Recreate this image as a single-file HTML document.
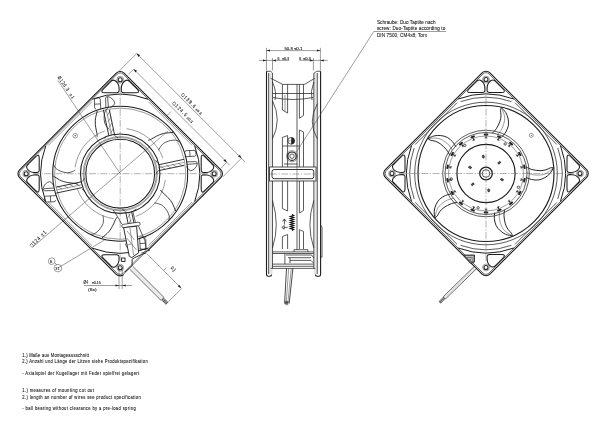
<!DOCTYPE html><html><head><meta charset="utf-8"><style>
html,body{margin:0;padding:0;background:#fff;width:600px;height:425px;overflow:hidden}
svg{display:block;filter:grayscale(1)}
.l{fill:none;stroke:#262626;stroke-width:.75}
.t{fill:none;stroke:#3a3a3a;stroke-width:.5}
.th{fill:none;stroke:#1c1c1c;stroke-width:1.15}
.tk{fill:none;stroke:#1c1c1c;stroke-width:1.6}
.c{fill:none;stroke:#666;stroke-width:.5;stroke-dasharray:7 1.5 1.2 1.5}
.d{fill:none;stroke:#3c3c3c;stroke-width:.5}
.fk{fill:#222;stroke:none}
text{font-family:"Liberation Sans",sans-serif;fill:#111;stroke:#333;stroke-width:.12}
</style></head><body>
<svg width="600" height="425" viewBox="0 0 600 425">
<g transform="translate(120.2,173.7)">
<rect class="th" x="-73.9" y="-73.9" width="147.8" height="147.8" rx="5.5" transform="rotate(45)"/>
<rect class="l" x="-72.5" y="-72.5" width="145" height="145" rx="4.2" transform="rotate(45)" style="stroke:#444"/>
<g transform="rotate(0)"><path class="th" d="M15.6,-81 L3.6,-81 Q1.1,-81 1.1,-83.5 L1.2,-86.5 Q1.6,-90.8 5,-93 Q7.8,-94.6 10,-91.5 L17,-84.5 Q20.4,-81 15.6,-81 Z" style="stroke-width:1.05"/><path class="th" d="M-15.6,-81 L-3.6,-81 Q-1.1,-81 -1.1,-83.5 L-1.2,-86.5 Q-1.6,-90.8 -5,-93 Q-7.8,-94.6 -10,-91.5 L-17,-84.5 Q-20.4,-81 -15.6,-81 Z" style="stroke-width:1.05"/><circle cx="0" cy="-94" r="2" style="fill:none;stroke:#222;stroke-width:1.1"/><circle class="t" cx="0" cy="-94" r="3.4"/><path class="th" d="M-27.84,-74.47 A79.5,79.5 0 0 1 27.84,-74.47" style="stroke-width:1"/><path class="t" d="M28.2,-72 L72,-28.2"/></g>
<g transform="rotate(90)"><path class="th" d="M15.6,-81 L3.6,-81 Q1.1,-81 1.1,-83.5 L1.2,-86.5 Q1.6,-90.8 5,-93 Q7.8,-94.6 10,-91.5 L17,-84.5 Q20.4,-81 15.6,-81 Z" style="stroke-width:1.05"/><path class="th" d="M-15.6,-81 L-3.6,-81 Q-1.1,-81 -1.1,-83.5 L-1.2,-86.5 Q-1.6,-90.8 -5,-93 Q-7.8,-94.6 -10,-91.5 L-17,-84.5 Q-20.4,-81 -15.6,-81 Z" style="stroke-width:1.05"/><circle cx="0" cy="-94" r="2" style="fill:none;stroke:#222;stroke-width:1.1"/><circle class="t" cx="0" cy="-94" r="3.4"/><path class="th" d="M-27.84,-74.47 A79.5,79.5 0 0 1 27.84,-74.47" style="stroke-width:1"/><path class="t" d="M28.2,-72 L72,-28.2"/></g>
<g transform="rotate(180)"><path class="th" d="M15.6,-81 L3.6,-81 Q1.1,-81 1.1,-83.5 L1.2,-86.5 Q1.6,-90.8 5,-93 Q7.8,-94.6 10,-91.5 L17,-84.5 Q20.4,-81 15.6,-81 Z" style="stroke-width:1.05"/><circle cx="0" cy="-94" r="2" style="fill:none;stroke:#222;stroke-width:1.1"/><circle class="t" cx="0" cy="-94" r="3.4"/><path class="th" d="M-27.84,-74.47 A79.5,79.5 0 0 1 27.84,-74.47" style="stroke-width:1"/><path class="t" d="M28.2,-72 L72,-28.2"/></g>
<g transform="rotate(270)"><path class="th" d="M15.6,-81 L3.6,-81 Q1.1,-81 1.1,-83.5 L1.2,-86.5 Q1.6,-90.8 5,-93 Q7.8,-94.6 10,-91.5 L17,-84.5 Q20.4,-81 15.6,-81 Z" style="stroke-width:1.05"/><path class="th" d="M-15.6,-81 L-3.6,-81 Q-1.1,-81 -1.1,-83.5 L-1.2,-86.5 Q-1.6,-90.8 -5,-93 Q-7.8,-94.6 -10,-91.5 L-17,-84.5 Q-20.4,-81 -15.6,-81 Z" style="stroke-width:1.05"/><circle cx="0" cy="-94" r="2" style="fill:none;stroke:#222;stroke-width:1.1"/><circle class="t" cx="0" cy="-94" r="3.4"/><path class="th" d="M-27.84,-74.47 A79.5,79.5 0 0 1 27.84,-74.47" style="stroke-width:1"/><path class="t" d="M28.2,-72 L72,-28.2"/></g>
<circle class="th" r="67.5" style="stroke-width:1.05"/>
<circle class="t" r="65.6"/>
<circle class="th" r="39.7" style="stroke-width:1.1"/>
<circle class="t" r="37.1"/>
<circle class="t" r="36.2"/>
<circle class="th" r="34.4" style="stroke-width:1.05"/>
<g transform="rotate(0)"><path class="th" d="M-11.4,-38.2 L-16.9,-64 M-5.5,-38.2 L-10.9,-64" style="stroke-width:.9"/><path class="t" d="M-8.45,-38.2 L-13.9,-64 M-10,-40 L-7,-45 M-11,-46 L-8,-51 M-12,-52 L-9,-57 M-13,-58 L-10,-63"/><path class="l" d="M-13,-38 Q-14,-36 -16,-35.5 M-5,-38 Q-4,-36 -2,-35.8"/><path class="l" d="M-19.4,-64.5 L-20,-74.5 Q-20.2,-75.8 -21.5,-75.8 L-24.2,-75.6 Q-25.8,-75.4 -25.8,-73.8 L-25.6,-66 Q-25.4,-64.8 -24,-64.6 M-25.6,-69.5 L-19.8,-69.8"/><path class="l" d="M-9.8,-66.2 Q-5.6,-68.5 -5.4,-70.5 Q-6.5,-75.5 -12.2,-77.1 Q-14.6,-77.4 -14.6,-75.5 L-14.3,-66 M-12.6,-76.6 L-11.8,-66.5"/></g>
<g transform="rotate(90) translate(2.5,0)"><path class="th" d="M-11.4,-38.2 L-16.9,-64 M-5.5,-38.2 L-10.9,-64" style="stroke-width:.9"/><path class="t" d="M-8.45,-38.2 L-13.9,-64 M-10,-40 L-7,-45 M-11,-46 L-8,-51 M-12,-52 L-9,-57 M-13,-58 L-10,-63"/><path class="l" d="M-13,-38 Q-14,-36 -16,-35.5 M-5,-38 Q-4,-36 -2,-35.8"/><path class="l" d="M-19.4,-64.5 L-20,-74.5 Q-20.2,-75.8 -21.5,-75.8 L-24.2,-75.6 Q-25.8,-75.4 -25.8,-73.8 L-25.6,-66 Q-25.4,-64.8 -24,-64.6 M-25.6,-69.5 L-19.8,-69.8"/><path class="l" d="M-9.8,-66.2 Q-5.6,-68.5 -5.4,-70.5 Q-6.5,-75.5 -12.2,-77.1 Q-14.6,-77.4 -14.6,-75.5 L-14.3,-66 M-12.6,-76.6 L-11.8,-66.5"/></g>
<g transform="rotate(180)"><path class="th" d="M-11.4,-38.2 L-16.9,-64 M-5.5,-38.2 L-10.9,-64" style="stroke-width:.9"/><path class="t" d="M-8.45,-38.2 L-13.9,-64 M-10,-40 L-7,-45 M-11,-46 L-8,-51 M-12,-52 L-9,-57 M-13,-58 L-10,-63"/><path class="l" d="M-13,-38 Q-14,-36 -16,-35.5 M-5,-38 Q-4,-36 -2,-35.8"/><path class="l" d="M-19.4,-64.5 L-20,-74.5 Q-20.2,-75.8 -21.5,-75.8 L-24.2,-75.6 Q-25.8,-75.4 -25.8,-73.8 L-25.6,-66 Q-25.4,-64.8 -24,-64.6 M-25.6,-69.5 L-19.8,-69.8"/><path class="l" d="M-9.8,-66.2 Q-5.6,-68.5 -5.4,-70.5 Q-6.5,-75.5 -12.2,-77.1 Q-14.6,-77.4 -14.6,-75.5 L-14.3,-66 M-12.6,-76.6 L-11.8,-66.5"/></g>
<g transform="rotate(270) translate(-2.5,0)"><path class="th" d="M-11.4,-38.2 L-16.9,-64 M-5.5,-38.2 L-10.9,-64" style="stroke-width:.9"/><path class="t" d="M-8.45,-38.2 L-13.9,-64 M-10,-40 L-7,-45 M-11,-46 L-8,-51 M-12,-52 L-9,-57 M-13,-58 L-10,-63"/><path class="l" d="M-13,-38 Q-14,-36 -16,-35.5 M-5,-38 Q-4,-36 -2,-35.8"/><path class="l" d="M-19.4,-64.5 L-20,-74.5 Q-20.2,-75.8 -21.5,-75.8 L-24.2,-75.6 Q-25.8,-75.4 -25.8,-73.8 L-25.6,-66 Q-25.4,-64.8 -24,-64.6 M-25.6,-69.5 L-19.8,-69.8"/><path class="l" d="M-9.8,-66.2 Q-5.6,-68.5 -5.4,-70.5 Q-6.5,-75.5 -12.2,-77.1 Q-14.6,-77.4 -14.6,-75.5 L-14.3,-66 M-12.6,-76.6 L-11.8,-66.5"/></g>
<g transform="scale(-1,1)">
<path class="th" style="stroke-width:.9" d="M23.05,-36.89 C23.08,-37.45 23.02,-38.77 23.25,-40.27 C23.48,-41.77 24.13,-43.71 24.41,-45.91 C24.69,-48.11 25.18,-50.63 24.93,-53.47 C24.68,-56.31 23.25,-61.38 22.92,-62.96"/><path class="l" d="M10.51,-43.76 C10.89,-44.17 12,-45.1 12.83,-46.25 C13.66,-47.41 14.96,-48.76 15.5,-50.68 C16.03,-52.61 16.18,-55.71 16.03,-57.82 C15.89,-59.93 15.34,-61.89 14.62,-63.33 C13.9,-64.78 12.2,-65.95 11.72,-66.47"/>
<path class="th" style="stroke-width:.9" d="M42.21,10.52 C42.75,10.38 43.98,9.92 45.48,9.67 C46.98,9.42 49.03,9.44 51.21,9.03 C53.39,8.62 55.94,8.31 58.56,7.19 C61.19,6.08 65.56,3.15 66.96,2.34"/><path class="l" d="M44.86,-3.53 C45.38,-3.29 46.6,-2.53 47.95,-2.09 C49.31,-1.66 50.99,-0.84 52.99,-0.92 C54.99,-1.01 57.98,-1.83 59.94,-2.62 C61.9,-3.41 63.6,-4.54 64.75,-5.67 C65.9,-6.79 66.49,-8.77 66.84,-9.39"/>
<path class="th" style="stroke-width:.9" d="M3.03,43.39 C3.34,43.87 4.16,44.9 4.86,46.25 C5.56,47.6 6.17,49.55 7.24,51.49 C8.3,53.44 9.39,55.76 11.26,57.92 C13.13,60.07 17.27,63.32 18.47,64.4"/><path class="l" d="M17.22,41.57 C17.15,42.14 16.8,43.54 16.81,44.96 C16.82,46.38 16.55,48.24 17.26,50.11 C17.96,51.99 19.66,54.58 21.01,56.2 C22.37,57.82 23.97,59.09 25.4,59.83 C26.83,60.58 28.89,60.53 29.59,60.67"/>
<path class="th" style="stroke-width:.9" d="M-40.33,16.3 C-40.69,16.73 -41.41,17.83 -42.48,18.91 C-43.55,20 -45.22,21.18 -46.74,22.8 C-48.26,24.41 -50.13,26.16 -51.6,28.6 C-53.07,31.05 -54.89,35.99 -55.55,37.47"/><path class="l" d="M-34.22,29.23 C-34.78,29.33 -36.21,29.44 -37.57,29.88 C-38.92,30.33 -40.76,30.65 -42.33,31.9 C-43.89,33.14 -45.84,35.56 -46.96,37.35 C-48.08,39.14 -48.79,41.05 -49.06,42.64 C-49.32,44.23 -48.64,46.18 -48.56,46.89"/>
<path class="th" style="stroke-width:.9" d="M-27.96,-33.32 C-28.49,-33.53 -29.75,-33.88 -31.11,-34.56 C-32.47,-35.24 -34.12,-36.46 -36.12,-37.41 C-38.13,-38.35 -40.37,-39.6 -43.15,-40.24 C-45.93,-40.88 -51.19,-41.08 -52.8,-41.25"/><path class="l" d="M-38.37,-23.51 C-38.65,-24.01 -39.19,-25.35 -40.03,-26.49 C-40.87,-27.64 -41.75,-29.3 -43.42,-30.4 C-45.08,-31.5 -47.98,-32.6 -50.03,-33.12 C-52.08,-33.63 -54.12,-33.72 -55.72,-33.48 C-57.31,-33.24 -58.95,-31.99 -59.6,-31.69"/>
</g>
<g transform="rotate(0)"><path class="t" d="M6.33,-45.06 A45.5,45.5 0 0 1 42.76,-15.56"/></g>
<g transform="rotate(90)"><path class="t" d="M6.33,-45.06 A45.5,45.5 0 0 1 42.76,-15.56"/></g>
<g transform="rotate(180)"><path class="t" d="M6.33,-45.06 A45.5,45.5 0 0 1 42.76,-15.56"/></g>
<g transform="rotate(270)"><path class="t" d="M6.33,-45.06 A45.5,45.5 0 0 1 42.76,-15.56"/></g>
<circle class="t" cx="-45" cy="-38" r="2.3"/><circle class="fk" cx="-45" cy="-38" r=".6"/>
</g>
<path class="c" d="M33,173.7 H208 M120.2,86.5 V261"/>
<path class="d" d="M136.7,53.5 L245,161.8 M133.7,69.2 L229.8,165.3"/>
<path class="d" d="M136.7,53.5 L119,71.2 M241.5,158.2 L223,176.7 M133.7,69.2 L128.5,74.4 M226.8,162.3 L220.5,168.6 M171,111.6 L167,115.6"/>
<path class="fk" d="M136.7,53.5 l1.6,3.4 l1.8,-1.8 Z M241.5,158.2 l-3.4,-1.6 l1.8,-1.8 Z M133.7,69.2 l1.6,3.4 l1.8,-1.8 Z M226.8,162.3 l-3.4,-1.6 l1.8,-1.8 Z"/>
<path class="d" d="M58,80.5 L120.2,173.7 M32.8,247 L168,131 M57.9,268.1 L105.3,239.5 M54.8,262.8 L57,265"/>
<path class="d" d="M84,285.5 H132 M119,268 V289 M122.2,268 V289"/>
<path class="fk" d="M119,285.5 l-3.5,-1 v2 Z M122.2,285.5 l3.5,-1 v2 Z"/>
<circle class="d" cx="51.6" cy="261.2" r="3.3"/><circle class="d" cx="57.9" cy="268.1" r="3.8"/>
<path d="M147.5,250.5 L151,254 L127,278 L123.5,274.5 Z" fill="#fff"/>
<path class="th" d="M146.5,252.8 L141.5,254.5 L134.4,257.8 L132.1,259.3 L132.1,265.5 L124.8,272.3" style="stroke-width:.9"/>
<path class="l" style="stroke-width:.7" d="M132.78,266.31 L164.08,297.51"/><path class="t" style="stroke:#999;stroke-width:.4" d="M131.79,267.3 L163.09,298.5"/><path class="t" style="stroke:#999;stroke-width:.4" d="M130.81,268.3 L162.11,299.5"/><path class="l" style="stroke-width:.7" d="M129.82,269.29 L161.12,300.49"/>
<path d="M162.4,298.8 L167,303.4" style="stroke:#222;stroke-width:3.6;stroke-dasharray:.7 .5"/>
<path class="d" d="M147.2,254 L181.2,288.2 M181.6,288.6 L168.2,301.8 M166.5,267.6 L163.5,270.6"/>
<path class="fk" d="M181.2,288.2 l-3.4,-1.6 l1.8,-1.8 Z"/>
<path style="fill:#fff;stroke:#262626;stroke-width:.75" d="M123.2,224.4 L138,222.2 Q140.6,222.3 140.2,224.3 Q139.8,225.6 138.4,225.6 L123.6,227.8 Q121.6,227.6 121.8,225.8 Q122,224.6 123.2,224.4 Z"/>
<path style="fill:#fff;stroke:#1c1c1c;stroke-width:.9" d="M123.6,227.6 L129.3,256.3 L131.8,257.6 L138.6,252.8 L136.6,226.2 Z"/>
<path class="t" d="M127,231 L134.5,240 M126.8,238 L136.5,250 M127.5,245 L131,244 M130,228 L133.5,255"/>
<path class="l" d="M113.1,209.8 L119,219 Q121,224 122.5,224.3 M132.9,211.5 L135.4,222.5 M138.5,226 L145,241 L146,249.4 L139.5,249 M139.5,237 L146,237"/>
<rect class="th" style="stroke-width:.9" x="121.6" y="258" width="3.4" height="3.4"/>
<path class="l" d="M141.3,253.2 L150,250.2"/>
<path d="M268.6,73 H272.5 V274 H268.6 Z M313.8,73 H317.3 V274 H313.8 Z" fill="#e4e4e4"/>
<path class="th" d="M266.5,71.3 V274.5 Q266.5,276.2 268.3,276.2 H270 Q271.6,276.2 271.6,274.5" style="stroke-width:1.1"/>
<path class="th" d="M320.6,71.3 V274.5 Q320.6,276.2 318.8,276.2 H317 Q315.4,276.2 315.4,274.5" style="stroke-width:1.1"/>
<path class="l" d="M266.5,71.3 H270.7 L272.5,73 V268.4 M320.6,71.3 H316.6 L313.8,73.4 V268.4 M268.6,73 V274 M317.3,73 V274"/>
<path class="l" d="M270.7,78.3 L282.7,84.4 H304.5 L314.8,78.3 M272.5,93.5 H313.8 M273,97.5 Q293,101.5 313,97.5"/>
<path class="l" d="M282.4,84.4 V110 L287.6,113 V84.4 M299.4,84.4 V118.3 L303.5,115.5 V84.4"/>
<path class="t" d="M285,95 V111"/>
<path class="l" d="M297,84.4 V250"/>
<path class="l" d="M272.5,100.8 Q282,119.8 272.5,138.8 M317.3,103.8 Q307.3,121.3 317.3,138.8 M272.5,200.6 Q280,225 272.5,248 M313.8,200.6 Q306,225 313.8,248"/>
<path class="l" d="M272.5,82 Q277,92 275,100 M313.8,82 Q310,92 312,100"/>
<path class="l" d="M282.4,137.5 L287.6,135.5 V166.8 M282.4,137.5 V166.8 M299.4,130 L303.5,132 V166.8 M299.4,130 V166.8"/>
<path class="l" d="M282.4,146 H299.2 M284,164 H297.5"/>
<circle class="l" cx="291.2" cy="140.8" r="3.4"/><path class="fk" d="M291.2,137.4 A3.4,3.4 0 0 1 291.2,144.2 Z"/><path class="t" d="M287.8,140.8 H294.6"/>
<circle class="th" cx="292" cy="156.2" r="4.2"/><circle class="l" cx="292" cy="156.2" r="2.2"/><circle class="t" cx="292" cy="156.2" r="5.6"/>
<rect x="269.6" y="167" width="46.4" height="14" style="fill:#fff;stroke:#262626;stroke-width:.8"/>
<rect class="th" x="272" y="169.5" width="41.8" height="9.2" rx="2.2" style="stroke-width:.9"/>
<path class="c" d="M270,174 H316"/>
<path class="t" d="M297,167.2 V180.8"/>
<path class="l" d="M282.4,180.9 V208.5 L287.6,211 V180.9 M299.4,180.9 V213 L303.5,210.5 V180.9"/>
<path class="l" d="M282.6,221.5 L284.4,219 L286.2,221.5 M284.4,219 V224.5 M281.8,227.4 L284.2,225.6 V229.2 Z M284.2,227.4 H287.6"/>
<path d="M292,214.5 l1.6,1 l-3.2,1 l3.2,1 l-3.2,1 l3.2,1 l-3.2,1 l3.2,1 l-3.2,1 l3.2,1 l-3.2,1 l3.2,1 l-3.2,1 l3.2,1 l-3.2,1 l3.2,1 l-1.6,1" style="fill:none;stroke:#111;stroke-width:1.2"/>
<path class="l" d="M282.4,249 V236.5 L287.6,234.5 V249 M299.4,249 V229.7 L303.5,231.5 V249"/>
<path class="l" d="M272.5,251.9 H313.8 M272.5,253.5 H313.8 M272.5,264.1 H313.8 M272.5,266.3 H313.8 M270.5,268.4 H315.4"/>
<path class="l" d="M284.9,253.5 V264.1 M294,251.9 V249.7 H307.9 V251.9 M286,255 H311.5 L314,258 M288,257.7 H311 M290,260.4 H311 L313.5,263 M290,263 V257.7"/>
<path class="l" d="M320.6,225 L322,227 V257.2 H320.6"/>
<path class="th" style="stroke-width:.8" d="M286.5,268.4 L284.6,303.5 M292.9,268.4 L289.2,303.5"/>
<path class="t" d="M288.7,268.4 L286.2,303.5 M291.3,268.4 L287.8,303.5"/>
<path d="M286.9,301 L286.5,305" style="stroke:#222;stroke-width:3.4;stroke-dasharray:.7 .5"/>
<path class="d" d="M266.5,47.8 V70.5 M320.4,47.8 V70.5 M266.5,50.6 H320.4 M259.2,60.4 H289.2 M272.5,58 V70.5 M299.4,60.4 H327.6 M313.4,58 V70.5"/>
<path class="fk" d="M266.5,50.6 l3.5,-1 v2 Z M320.4,50.6 l-3.5,-1 v2 Z M266.5,60.4 l-3.5,-1 v2 Z M272.5,60.4 l3.5,-1 v2 Z M313.4,60.4 l-3.5,-1 v2 Z M320.4,60.4 l3.5,-1 v2 Z"/>
<path class="d" d="M373.8,31.5 L296.5,151.8 M373.8,31.5 H446.2"/>
<g transform="translate(486.0,173.5)">
<rect class="th" x="-73.9" y="-73.9" width="147.8" height="147.8" rx="5.5" transform="rotate(45)"/>
<rect class="l" x="-72.5" y="-72.5" width="145" height="145" rx="4.2" transform="rotate(45)" style="stroke:#444"/>
<g transform="rotate(0)"><path class="th" d="M15.6,-81 L3.6,-81 Q1.1,-81 1.1,-83.5 L1.2,-86.5 Q1.6,-90.8 5,-93 Q7.8,-94.6 10,-91.5 L17,-84.5 Q20.4,-81 15.6,-81 Z" style="stroke-width:1.05"/><path class="th" d="M-15.6,-81 L-3.6,-81 Q-1.1,-81 -1.1,-83.5 L-1.2,-86.5 Q-1.6,-90.8 -5,-93 Q-7.8,-94.6 -10,-91.5 L-17,-84.5 Q-20.4,-81 -15.6,-81 Z" style="stroke-width:1.05"/><circle cx="0" cy="-94" r="2" style="fill:none;stroke:#222;stroke-width:1.1"/><circle class="t" cx="0" cy="-94" r="3.4"/><path class="th" d="M-27.84,-74.47 A79.5,79.5 0 0 1 27.84,-74.47" style="stroke-width:1"/><path class="l" d="M29,-70.84 L70.84,-29"/></g>
<g transform="rotate(90)"><path class="th" d="M15.6,-81 L3.6,-81 Q1.1,-81 1.1,-83.5 L1.2,-86.5 Q1.6,-90.8 5,-93 Q7.8,-94.6 10,-91.5 L17,-84.5 Q20.4,-81 15.6,-81 Z" style="stroke-width:1.05"/><path class="th" d="M-15.6,-81 L-3.6,-81 Q-1.1,-81 -1.1,-83.5 L-1.2,-86.5 Q-1.6,-90.8 -5,-93 Q-7.8,-94.6 -10,-91.5 L-17,-84.5 Q-20.4,-81 -15.6,-81 Z" style="stroke-width:1.05"/><circle cx="0" cy="-94" r="2" style="fill:none;stroke:#222;stroke-width:1.1"/><circle class="t" cx="0" cy="-94" r="3.4"/><path class="th" d="M-27.84,-74.47 A79.5,79.5 0 0 1 27.84,-74.47" style="stroke-width:1"/><path class="l" d="M29,-70.84 L70.84,-29"/></g>
<g transform="rotate(180)"><path class="th" d="M-15.6,-81 L-3.6,-81 Q-1.1,-81 -1.1,-83.5 L-1.2,-86.5 Q-1.6,-90.8 -5,-93 Q-7.8,-94.6 -10,-91.5 L-17,-84.5 Q-20.4,-81 -15.6,-81 Z" style="stroke-width:1.05"/><circle cx="0" cy="-94" r="2" style="fill:none;stroke:#222;stroke-width:1.1"/><circle class="t" cx="0" cy="-94" r="3.4"/><path class="th" d="M-27.84,-74.47 A79.5,79.5 0 0 1 27.84,-74.47" style="stroke-width:1"/><path class="l" d="M29,-70.84 L70.84,-29"/></g>
<g transform="rotate(270)"><path class="th" d="M15.6,-81 L3.6,-81 Q1.1,-81 1.1,-83.5 L1.2,-86.5 Q1.6,-90.8 5,-93 Q7.8,-94.6 10,-91.5 L17,-84.5 Q20.4,-81 15.6,-81 Z" style="stroke-width:1.05"/><path class="th" d="M-15.6,-81 L-3.6,-81 Q-1.1,-81 -1.1,-83.5 L-1.2,-86.5 Q-1.6,-90.8 -5,-93 Q-7.8,-94.6 -10,-91.5 L-17,-84.5 Q-20.4,-81 -15.6,-81 Z" style="stroke-width:1.05"/><circle cx="0" cy="-94" r="2" style="fill:none;stroke:#222;stroke-width:1.1"/><circle class="t" cx="0" cy="-94" r="3.4"/><path class="th" d="M-27.84,-74.47 A79.5,79.5 0 0 1 27.84,-74.47" style="stroke-width:1"/><path class="l" d="M29,-70.84 L70.84,-29"/></g>
<circle class="l" r="71.3"/>
<circle class="th" r="68"/>
<g transform="rotate(0)"><path class="l" d="M-25.44,-71.83 A76.2,76.2 0 0 1 25.44,-71.83"/></g>
<g transform="rotate(90)"><path class="l" d="M-25.44,-71.83 A76.2,76.2 0 0 1 25.44,-71.83"/></g>
<g transform="rotate(180)"><path class="l" d="M-25.44,-71.83 A76.2,76.2 0 0 1 25.44,-71.83"/></g>
<g transform="rotate(270)"><path class="l" d="M-25.44,-71.83 A76.2,76.2 0 0 1 25.44,-71.83"/></g>
<path class="th" d="M15.95,-36.68 C16.59,-37.49 18.73,-39.63 19.8,-41.52 C20.88,-43.41 22.02,-45.84 22.4,-48.03 C22.78,-50.23 22.54,-52.56 22.1,-54.7 C21.66,-56.84 20.92,-58.97 19.78,-60.87 C18.64,-62.76 16.01,-65.2 15.25,-66.06" style="stroke-width:.95"/><path class="th" d="M6.38,-40.3 C7.04,-41.05 9.08,-42.84 10.35,-44.82 C11.61,-46.8 13.2,-49.95 13.98,-52.16 C14.76,-54.37 14.93,-56.31 15.02,-58.09 C15.11,-59.87 14.47,-61.52 14.51,-62.85 C14.55,-64.18 15.13,-65.53 15.25,-66.06" style="stroke-width:.95"/><path class="t" d="M11.59,-39.12 C12.27,-39.98 14.56,-42.18 15.69,-44.3 C16.82,-46.43 17.92,-49.53 18.36,-51.85 C18.8,-54.16 18.86,-55.81 18.34,-58.18 C17.83,-60.55 15.77,-64.75 15.25,-66.06"/>
<path class="th" d="M39.82,3.83 C40.78,4.2 43.47,5.57 45.61,6 C47.74,6.44 50.4,6.77 52.6,6.46 C54.81,6.14 56.96,5.19 58.86,4.12 C60.76,3.04 62.55,1.67 64,0 C65.45,-1.67 66.95,-4.92 67.54,-5.91" style="stroke-width:.95"/><path class="th" d="M40.3,-6.38 C41.22,-5.99 43.55,-4.6 45.82,-4.01 C48.1,-3.42 51.58,-2.88 53.93,-2.83 C56.27,-2.77 58.17,-3.2 59.89,-3.66 C61.61,-4.13 62.98,-5.25 64.25,-5.62 C65.53,-6 66.99,-5.86 67.54,-5.91" style="stroke-width:.95"/><path class="t" d="M40.79,-1.07 C41.82,-0.68 44.62,0.81 46.98,1.23 C49.35,1.65 52.65,1.73 54.98,1.44 C57.32,1.15 58.9,0.69 61,-0.53 C63.09,-1.76 66.45,-5.01 67.54,-5.91"/>
<path class="th" d="M8.66,39.05 C8.61,40.08 8.14,43.07 8.38,45.23 C8.63,47.39 9.13,50.02 10.11,52.03 C11.09,54.03 12.66,55.77 14.27,57.25 C15.88,58.72 17.74,60.01 19.78,60.87 C21.81,61.73 25.37,62.15 26.49,62.41" style="stroke-width:.95"/><path class="th" d="M18.52,36.35 C18.43,37.35 17.84,40 17.97,42.34 C18.11,44.69 18.68,48.17 19.35,50.41 C20.02,52.66 21.02,54.33 21.99,55.83 C22.97,57.32 24.45,58.28 25.2,59.37 C25.95,60.47 26.28,61.9 26.49,62.41" style="stroke-width:.95"/><path class="t" d="M13.62,38.46 C13.57,39.56 13.02,42.69 13.35,45.06 C13.68,47.44 14.62,50.6 15.62,52.74 C16.62,54.87 17.54,56.24 19.36,57.85 C21.17,59.46 25.3,61.65 26.49,62.41"/>
<path class="th" d="M-34.47,20.3 C-35.46,20.58 -38.44,21.05 -40.43,21.95 C-42.41,22.85 -44.75,24.14 -46.35,25.69 C-47.96,27.25 -49.13,29.28 -50.03,31.27 C-50.94,33.25 -51.59,35.42 -51.78,37.62 C-51.97,39.82 -51.27,43.34 -51.17,44.48" style="stroke-width:.95"/><path class="th" d="M-28.85,28.85 C-29.83,29.07 -32.53,29.32 -34.72,30.18 C-36.9,31.03 -40.04,32.65 -41.97,33.98 C-43.9,35.31 -45.18,36.78 -46.3,38.16 C-47.42,39.55 -47.87,41.26 -48.68,42.32 C-49.49,43.37 -50.75,44.12 -51.17,44.48" style="stroke-width:.95"/><path class="t" d="M-32.37,24.84 C-33.43,25.13 -36.57,25.57 -38.73,26.62 C-40.89,27.67 -43.61,29.54 -45.33,31.15 C-47.04,32.76 -48.06,34.06 -49.04,36.28 C-50.01,38.51 -50.81,43.11 -51.17,44.48"/>
<path class="th" d="M-29.96,-26.5 C-30.53,-27.36 -31.9,-30.06 -33.37,-31.66 C-34.83,-33.27 -36.79,-35.1 -38.76,-36.15 C-40.73,-37.19 -43.03,-37.68 -45.2,-37.92 C-47.37,-38.17 -49.62,-38.12 -51.78,-37.62 C-53.93,-37.12 -57.06,-35.37 -58.12,-34.92" style="stroke-width:.95"/><path class="th" d="M-36.35,-18.52 C-36.87,-19.38 -37.94,-21.88 -39.43,-23.69 C-40.92,-25.51 -43.43,-27.99 -45.29,-29.41 C-47.15,-30.83 -48.94,-31.6 -50.6,-32.24 C-52.27,-32.87 -54.04,-32.77 -55.29,-33.22 C-56.54,-33.67 -57.64,-34.64 -58.12,-34.92" style="stroke-width:.95"/><path class="t" d="M-33.62,-23.11 C-34.23,-24.03 -35.62,-26.88 -37.29,-28.61 C-38.96,-30.34 -41.57,-32.35 -43.63,-33.48 C-45.7,-34.62 -47.25,-35.18 -49.66,-35.42 C-52.07,-35.66 -56.71,-35 -58.12,-34.92"/>
<circle class="l" r="43.3"/>
<circle class="l" r="41"/>
<circle class="t" r="37.5"/>
<circle class="th" r="29.1"/>
<circle class="th" r="6.3" style="stroke-width:1.3"/><circle class="l" r="3.8"/>
<ellipse cx="-2.68" cy="-16.89" rx="1.5" ry="1" transform="rotate(-99 -2.68 -16.89)" style="fill:#555;stroke:#222;stroke-width:.7"/>
<ellipse cx="13.29" cy="-10.76" rx="1.5" ry="1" transform="rotate(-39 13.29 -10.76)" style="fill:#555;stroke:#222;stroke-width:.7"/>
<ellipse cx="15.96" cy="6.13" rx="1.5" ry="1" transform="rotate(21 15.96 6.13)" style="fill:#555;stroke:#222;stroke-width:.7"/>
<ellipse cx="2.68" cy="16.89" rx="1.5" ry="1" transform="rotate(81 2.68 16.89)" style="fill:#555;stroke:#222;stroke-width:.7"/>
<ellipse cx="-13.29" cy="10.76" rx="1.5" ry="1" transform="rotate(141 -13.29 10.76)" style="fill:#555;stroke:#222;stroke-width:.7"/>
<ellipse cx="-15.96" cy="-6.13" rx="1.5" ry="1" transform="rotate(201 -15.96 -6.13)" style="fill:#555;stroke:#222;stroke-width:.7"/>
<g transform="translate(0,-39) rotate(0)"><rect class="fk" x="-2.3" y="-1" width="4.6" height="2" rx=".9"/><path class="th" style="stroke-width:.8" d="M0,0.8 V3.4 M-1.3,3.4 H1.3"/></g>
<g transform="translate(13.34,-36.65) rotate(20)"><rect class="fk" x="-2.3" y="-1" width="4.6" height="2" rx=".9"/><path class="th" style="stroke-width:.8" d="M0,0.8 V3.4 M-1.3,3.4 H1.3"/></g>
<g transform="translate(25.07,-29.88) rotate(40)"><rect class="fk" x="-2.3" y="-1" width="4.6" height="2" rx=".9"/><path class="th" style="stroke-width:.8" d="M0,0.8 V3.4 M-1.3,3.4 H1.3"/></g>
<g transform="translate(33.77,-19.5) rotate(60)"><rect class="fk" x="-2.3" y="-1" width="4.6" height="2" rx=".9"/><path class="th" style="stroke-width:.8" d="M0,0.8 V3.4 M-1.3,3.4 H1.3"/></g>
<g transform="translate(38.41,-6.77) rotate(80)"><rect class="fk" x="-2.3" y="-1" width="4.6" height="2" rx=".9"/><path class="th" style="stroke-width:.8" d="M0,0.8 V3.4 M-1.3,3.4 H1.3"/></g>
<g transform="translate(38.41,6.77) rotate(100)"><rect class="fk" x="-2.3" y="-1" width="4.6" height="2" rx=".9"/><path class="th" style="stroke-width:.8" d="M0,0.8 V3.4 M-1.3,3.4 H1.3"/></g>
<g transform="translate(33.77,19.5) rotate(120)"><rect class="fk" x="-2.3" y="-1" width="4.6" height="2" rx=".9"/><path class="th" style="stroke-width:.8" d="M0,0.8 V3.4 M-1.3,3.4 H1.3"/></g>
<g transform="translate(25.07,29.88) rotate(140)"><rect class="fk" x="-2.3" y="-1" width="4.6" height="2" rx=".9"/><path class="th" style="stroke-width:.8" d="M0,0.8 V3.4 M-1.3,3.4 H1.3"/></g>
<g transform="translate(13.34,36.65) rotate(160)"><rect class="fk" x="-2.3" y="-1" width="4.6" height="2" rx=".9"/><path class="th" style="stroke-width:.8" d="M0,0.8 V3.4 M-1.3,3.4 H1.3"/></g>
<g transform="translate(0,39) rotate(180)"><rect class="fk" x="-2.3" y="-1" width="4.6" height="2" rx=".9"/><path class="th" style="stroke-width:.8" d="M0,0.8 V3.4 M-1.3,3.4 H1.3"/></g>
<g transform="translate(-13.34,36.65) rotate(200)"><rect class="fk" x="-2.3" y="-1" width="4.6" height="2" rx=".9"/><path class="th" style="stroke-width:.8" d="M0,0.8 V3.4 M-1.3,3.4 H1.3"/></g>
<g transform="translate(-25.07,29.88) rotate(220)"><rect class="fk" x="-2.3" y="-1" width="4.6" height="2" rx=".9"/><path class="th" style="stroke-width:.8" d="M0,0.8 V3.4 M-1.3,3.4 H1.3"/></g>
<g transform="translate(-33.77,19.5) rotate(240)"><rect class="fk" x="-2.3" y="-1" width="4.6" height="2" rx=".9"/><path class="th" style="stroke-width:.8" d="M0,0.8 V3.4 M-1.3,3.4 H1.3"/></g>
<g transform="translate(-38.41,6.77) rotate(260)"><rect class="fk" x="-2.3" y="-1" width="4.6" height="2" rx=".9"/><path class="th" style="stroke-width:.8" d="M0,0.8 V3.4 M-1.3,3.4 H1.3"/></g>
<g transform="translate(-38.41,-6.77) rotate(280)"><rect class="fk" x="-2.3" y="-1" width="4.6" height="2" rx=".9"/><path class="th" style="stroke-width:.8" d="M0,0.8 V3.4 M-1.3,3.4 H1.3"/></g>
<g transform="translate(-33.77,-19.5) rotate(300)"><rect class="fk" x="-2.3" y="-1" width="4.6" height="2" rx=".9"/><path class="th" style="stroke-width:.8" d="M0,0.8 V3.4 M-1.3,3.4 H1.3"/></g>
<g transform="translate(-25.07,-29.88) rotate(320)"><rect class="fk" x="-2.3" y="-1" width="4.6" height="2" rx=".9"/><path class="th" style="stroke-width:.8" d="M0,0.8 V3.4 M-1.3,3.4 H1.3"/></g>
<g transform="translate(-13.34,-36.65) rotate(340)"><rect class="fk" x="-2.3" y="-1" width="4.6" height="2" rx=".9"/><path class="th" style="stroke-width:.8" d="M0,0.8 V3.4 M-1.3,3.4 H1.3"/></g>
<circle class="l" cx="19.17" cy="-29.52" r="1.2"/>
<circle class="l" cx="32.4" cy="13.75" r="1.2"/>
<circle class="l" cx="-7.92" cy="34.3" r="1.2"/>
<circle class="l" cx="-34.77" cy="5.51" r="1.2"/>
<circle class="l" cx="-21.18" cy="-28.11" r="1.2"/>
<circle class="t" cx="45.3" cy="-38.2" r="2"/><circle class="fk" cx="45.3" cy="-38.2" r=".5"/>
</g>
<path class="c" d="M399,173.5 H574 M486,86.3 V261"/>
<path class="l" style="stroke-width:.7" d="M476.42,268.85 L445.32,299.15"/><path class="t" style="stroke:#999;stroke-width:.4" d="M475.67,268.08 L444.57,298.38"/><path class="t" style="stroke:#999;stroke-width:.4" d="M474.93,267.32 L443.83,297.62"/><path class="l" style="stroke-width:.7" d="M474.18,266.55 L443.08,296.85"/>
<path d="M444.4,297.8 L439.6,302.6" style="stroke:#222;stroke-width:3;stroke-dasharray:.7 .5"/>
<path d="M463.2,255 L474.5,255 L474.5,262 L470.5,263.4 Z" style="fill:#777;stroke:#222;stroke-width:.8"/>
<path d="M466,256.5 L473,256.5 L473,261 M468,258.5 L471.5,258.5 L471.5,261" style="fill:none;stroke:#eee;stroke-width:.6"/>
<text x="0" y="0" font-size="6.1" transform="translate(376.9,24.3) scale(0.76,1)" textLength="77.11" lengthAdjust="spacing">Schraube: Duo Taptite nach</text>
<text x="0" y="0" font-size="6.1" transform="translate(376.9,30.2) scale(0.76,1)" textLength="90" lengthAdjust="spacing">screw: Duo-Taptite according to</text>
<text x="0" y="0" font-size="6.1" transform="translate(376.9,36.6) scale(0.76,1)" textLength="65.92" lengthAdjust="spacing">DIN 7500; CM4x8; Torx</text>
<text x="0" y="0" font-size="5.6" transform="translate(22.3,356.7) scale(0.74,1)" textLength="90.14" lengthAdjust="spacing">1.) Maße aus Montageausschnitt</text>
<text x="0" y="0" font-size="5.6" transform="translate(22.3,362.6) scale(0.74,1)" textLength="169.46" lengthAdjust="spacing">2.) Anzahl und Länge der Litzen siehe Produktspezifikation</text>
<text x="0" y="0" font-size="5.6" transform="translate(22.3,374.6) scale(0.74,1)" textLength="157.97" lengthAdjust="spacing">- Axialspiel der Kugellager mit Feder spielfrei gelagert</text>
<text x="0" y="0" font-size="5.6" transform="translate(22.3,391.6) scale(0.74,1)" textLength="96.76" lengthAdjust="spacing">1.) measures of mounting cut out</text>
<text x="0" y="0" font-size="5.6" transform="translate(22.3,398.6) scale(0.74,1)" textLength="160.14" lengthAdjust="spacing">2.) length an number of wires see product specification</text>
<text x="0" y="0" font-size="5.6" transform="translate(22.3,409.7) scale(0.74,1)" textLength="153.24" lengthAdjust="spacing">- ball bearing without clearance by a pre-load spring</text>
<text x="277.6" y="59.7" font-size="4.2" textLength="2" lengthAdjust="spacingAndGlyphs">6</text>
<text x="282" y="59.7" font-size="3" textLength="7.2" lengthAdjust="spacingAndGlyphs">±0.3</text>
<text x="299.2" y="59.7" font-size="4.2" textLength="2" lengthAdjust="spacingAndGlyphs">6</text>
<text x="303" y="59.7" font-size="3" textLength="7.8" lengthAdjust="spacingAndGlyphs">±0.3</text>
<text x="284.4" y="49.6" font-size="4.2" textLength="8.4" lengthAdjust="spacingAndGlyphs">50.8</text>
<text x="294" y="49.6" font-size="3" textLength="8.4" lengthAdjust="spacingAndGlyphs">±0.1</text>
<text x="83.6" y="283.7" font-size="4.6" textLength="4.6" lengthAdjust="spacingAndGlyphs">Ø4</text>
<text x="91.9" y="283.7" font-size="3.2" textLength="9" lengthAdjust="spacingAndGlyphs">±0.15</text>
<text x="88" y="291" font-size="4.4" textLength="8.6" lengthAdjust="spacingAndGlyphs">(8x)</text>
<text x="0" y="0" font-size="5" transform="translate(180.9,95.2) rotate(45) scale(.85,1)" textLength="21.5" lengthAdjust="spacing">□138.6</text>
<text x="0" y="0" font-size="3.4" transform="translate(194.9,109.4) rotate(45)" textLength="7.5" lengthAdjust="spacingAndGlyphs">±0.3</text>
<text x="0" y="0" font-size="5" transform="translate(172.3,103.8) rotate(45) scale(.85,1)" textLength="21.5" lengthAdjust="spacing">□124.5</text>
<text x="0" y="0" font-size="3.4" transform="translate(186.3,118) rotate(45)" textLength="7.5" lengthAdjust="spacingAndGlyphs">±0.3</text>
<text x="0" y="0" font-size="5" transform="translate(57.3,77.2) rotate(56) scale(.85,1)" textLength="20" lengthAdjust="spacing">Ø126.3</text>
<text x="0" y="0" font-size="4.4" transform="translate(69.2,94.8) rotate(56) scale(.85,1)" textLength="6" lengthAdjust="spacing">±1</text>
<text x="0" y="0" font-size="5.4" transform="translate(32,247.5) rotate(-45) scale(.8,1)" textLength="26" lengthAdjust="spacing">□124 ±1</text>
<text x="0" y="0" font-size="4.3" transform="translate(170.5,268) rotate(45)">2.)</text>
<text x="50" y="263" font-size="4.2">6</text>
<text x="0" y="0" font-size="4.4" transform="translate(55.3,269.8) scale(.85,1)">31</text>
</svg></body></html>
